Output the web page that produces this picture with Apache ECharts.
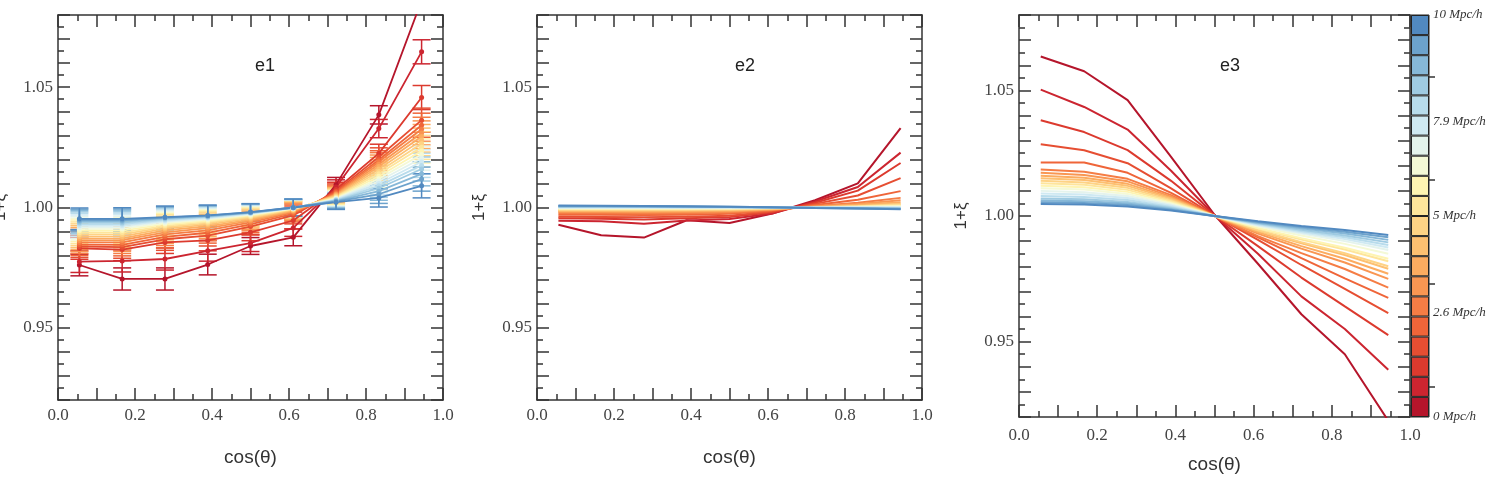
<!DOCTYPE html>
<html>
<head>
<meta charset="utf-8">
<script src="https://cdn.jsdelivr.net/npm/echarts@6/dist/echarts.min.js"></script>
<style>
    html, body { margin: 0; padding: 0; background: #fff; }
    #chart { width: 1496px; height: 477px; }
</style>
</head>
<body>
<div id="chart"></div>
<script>
    // cos(theta) bin centres
    var cosTheta = [0.0556, 0.1667, 0.2778, 0.3889, 0.5, 0.6111, 0.7222, 0.8333, 0.9444];

    // one colour per separation bin, 0 Mpc/h (red) -> 10 Mpc/h (blue)
    var sepColors = ['#b5152b', '#cc2530', '#dc3a2e', '#e64e32', '#ef6539', '#f57d45', '#f99652', '#fcac60', '#fdc071', '#fed385',
        '#fee59b', '#fef4b2', '#f4f9d6', '#e4f3ec', '#cfe9f2', '#b8dcec', '#9fcbe2', '#86b8d8', '#6ca2cc', '#5189c0'];

    // e1: 1+xi per separation bin
    var e1Lines = [
        [0.9761, 0.9703, 0.9703, 0.9763, 0.9840, 0.9876, 1.0095, 1.0385, 1.0860],
        [0.9775, 0.9778, 0.9786, 0.9820, 0.9852, 0.9915, 1.0085, 1.0328, 1.0647],
        [0.9830, 0.9825, 0.9855, 0.9863, 0.9897, 0.9946, 1.0075, 1.0225, 1.0457],
        [0.9838, 0.9835, 0.9868, 0.9883, 0.9921, 0.9967, 1.0068, 1.0210, 1.0363],
        [0.9846, 0.9845, 0.9878, 0.9895, 0.9930, 0.9975, 1.0063, 1.0198, 1.0342],
        [0.9855, 0.9855, 0.9888, 0.9905, 0.9938, 0.9980, 1.0058, 1.0190, 1.0325],
        [0.9863, 0.9864, 0.9897, 0.9914, 0.9944, 0.9984, 1.0055, 1.0180, 1.0310],
        [0.9871, 0.9872, 0.9905, 0.9922, 0.9950, 0.9987, 1.0052, 1.0170, 1.0295],
        [0.9879, 0.9880, 0.9912, 0.9929, 0.9955, 0.9990, 1.0049, 1.0160, 1.0280],
        [0.9887, 0.9888, 0.9918, 0.9935, 0.9959, 0.9992, 1.0046, 1.0150, 1.0265],
        [0.9895, 0.9896, 0.9924, 0.9940, 0.9963, 0.9994, 1.0043, 1.0140, 1.0250],
        [0.9903, 0.9904, 0.9930, 0.9945, 0.9967, 0.9995, 1.0040, 1.0130, 1.0235],
        [0.9910, 0.9911, 0.9935, 0.9950, 0.9970, 0.9996, 1.0037, 1.0120, 1.0220],
        [0.9917, 0.9918, 0.9940, 0.9954, 0.9973, 0.9997, 1.0035, 1.0110, 1.0205],
        [0.9924, 0.9925, 0.9945, 0.9957, 0.9975, 0.9998, 1.0033, 1.0100, 1.0190],
        [0.9931, 0.9931, 0.9949, 0.9960, 0.9977, 0.9998, 1.0031, 1.0090, 1.0175],
        [0.9937, 0.9937, 0.9953, 0.9962, 0.9978, 0.9999, 1.0029, 1.0080, 1.0160],
        [0.9943, 0.9943, 0.9956, 0.9964, 0.9979, 0.9999, 1.0027, 1.0068, 1.0140],
        [0.9948, 0.9948, 0.9958, 0.9966, 0.9980, 1.0000, 1.0025, 1.0055, 1.0118],
        [0.9953, 0.9953, 0.9960, 0.9967, 0.9981, 1.0000, 1.0022, 1.0040, 1.0090]
    ];
    // e1 error bar half-heights per cos(theta) bin
    var e1Err = [0.0045, 0.0046, 0.0046, 0.0043, 0.0035, 0.0035, 0.0030, 0.0038, 0.0050];

    var e2Lines = [
        [0.9928, 0.9885, 0.9875, 0.9947, 0.9936, 0.9975, 1.0030, 1.0100, 1.0330],
        [0.9945, 0.9943, 0.9932, 0.9946, 0.9952, 0.9975, 1.0025, 1.0085, 1.0228],
        [0.9955, 0.9953, 0.9950, 0.9955, 0.9960, 0.9980, 1.0020, 1.0070, 1.0185],
        [0.9962, 0.9961, 0.9960, 0.9962, 0.9966, 0.9983, 1.0015, 1.0050, 1.0122],
        [0.9970, 0.9970, 0.9969, 0.9970, 0.9974, 0.9987, 1.0010, 1.0032, 1.0068],
        [0.9976, 0.9976, 0.9975, 0.9976, 0.9979, 0.9990, 1.0006, 1.0020, 1.0040],
        [0.9981, 0.9981, 0.9980, 0.9981, 0.9983, 0.9992, 1.0004, 1.0015, 1.0030],
        [0.9985, 0.9985, 0.9984, 0.9985, 0.9987, 0.9993, 1.0002, 1.0011, 1.0022],
        [0.9988, 0.9988, 0.9988, 0.9989, 0.9990, 0.9995, 1.0001, 1.0007, 1.0016],
        [0.9991, 0.9991, 0.9991, 0.9991, 0.9992, 0.9996, 1.0001, 1.0005, 1.0012],
        [0.9993, 0.9993, 0.9993, 0.9993, 0.9994, 0.9997, 1.0000, 1.0004, 1.0009],
        [0.9995, 0.9995, 0.9995, 0.9995, 0.9996, 0.9998, 1.0000, 1.0003, 1.0006],
        [0.9997, 0.9997, 0.9997, 0.9997, 0.9997, 0.9999, 1.0000, 1.0002, 1.0004],
        [0.9999, 0.9999, 0.9999, 0.9999, 0.9999, 0.9999, 1.0000, 1.0001, 1.0002],
        [1.0000, 1.0000, 1.0000, 1.0000, 1.0000, 1.0000, 1.0000, 1.0000, 1.0000],
        [1.0002, 1.0002, 1.0002, 1.0001, 1.0001, 1.0000, 0.9999, 0.9999, 0.9998],
        [1.0003, 1.0003, 1.0003, 1.0002, 1.0002, 1.0000, 0.9999, 0.9998, 0.9997],
        [1.0005, 1.0005, 1.0004, 1.0003, 1.0002, 1.0000, 0.9999, 0.9997, 0.9995],
        [1.0006, 1.0006, 1.0005, 1.0004, 1.0003, 1.0001, 0.9998, 0.9996, 0.9994],
        [1.0008, 1.0007, 1.0006, 1.0005, 1.0003, 1.0001, 0.9998, 0.9996, 0.9993]
    ];

    var e3Lines = [
        [1.0635, 1.0576, 1.0461, 1.0235, 1.0005, 0.9810, 0.9609, 0.9450, 0.9185],
        [1.0503, 1.0434, 1.0344, 1.0180, 1.0003, 0.9850, 0.9680, 0.9550, 0.9388],
        [1.0381, 1.0334, 1.0262, 1.0140, 1.0002, 0.9880, 0.9755, 0.9640, 0.9526],
        [1.0286, 1.0262, 1.0210, 1.0110, 1.0001, 0.9905, 0.9805, 0.9710, 0.9613],
        [1.0213, 1.0213, 1.0172, 1.0092, 1.0000, 0.9915, 0.9832, 0.9752, 0.9674],
        [1.0185, 1.0176, 1.0148, 1.0083, 1.0000, 0.9920, 0.9852, 0.9789, 0.9715],
        [1.0172, 1.0163, 1.0138, 1.0077, 1.0000, 0.9930, 0.9870, 0.9815, 0.9750],
        [1.0160, 1.0152, 1.0128, 1.0072, 1.0000, 0.9936, 0.9880, 0.9830, 0.9770],
        [1.0150, 1.0143, 1.0120, 1.0068, 1.0000, 0.9941, 0.9891, 0.9845, 0.9790],
        [1.0140, 1.0133, 1.0112, 1.0063, 1.0000, 0.9944, 0.9896, 0.9852, 0.9800],
        [1.0130, 1.0124, 1.0104, 1.0059, 1.0000, 0.9950, 0.9906, 0.9867, 0.9820],
        [1.0120, 1.0114, 1.0096, 1.0054, 1.0000, 0.9952, 0.9912, 0.9874, 0.9830],
        [1.0110, 1.0105, 1.0088, 1.0050, 1.0000, 0.9958, 0.9922, 0.9889, 0.9850],
        [1.0100, 1.0095, 1.0080, 1.0045, 1.0000, 0.9962, 0.9930, 0.9900, 0.9865],
        [1.0090, 1.0086, 1.0072, 1.0041, 1.0000, 0.9965, 0.9935, 0.9908, 0.9875],
        [1.0080, 1.0076, 1.0064, 1.0036, 1.0000, 0.9968, 0.9940, 0.9915, 0.9885],
        [1.0070, 1.0067, 1.0056, 1.0032, 1.0000, 0.9971, 0.9945, 0.9922, 0.9895],
        [1.0062, 1.0059, 1.0050, 1.0028, 1.0000, 0.9973, 0.9951, 0.9930, 0.9905],
        [1.0055, 1.0052, 1.0044, 1.0025, 1.0000, 0.9976, 0.9956, 0.9937, 0.9915],
        [1.0048, 1.0046, 1.0038, 1.0022, 1.0000, 0.9979, 0.9960, 0.9944, 0.9924]
    ];

    var panelNames = ['e1', 'e2', 'e3'];

    // colorbar: bin edges in Mpc/h, label positions / texts, tick positions
    var cbEdges = [0, 0.5, 1, 1.5, 2, 2.5, 3, 3.5, 4, 4.5, 5, 5.5, 6, 6.5, 7, 7.5, 8, 8.5, 9, 9.5, 10];
    var cbLabelPos = [0, 2.6, 5, 7.35, 10];
    var cbLabelText = ['0 Mpc/h', '2.6 Mpc/h', '5 Mpc/h', '7.9 Mpc/h', '10 Mpc/h'];
    var cbTickPos = [0.76, 3.32, 5.89, 8.46];

    var AXIS_COLOR = '#333';
    var SERIF = '"Liberation Serif", "DejaVu Serif", serif';
    var SANS = '"Liberation Sans", Arial, sans-serif';

    // outerBoundsMode none: keep grids exactly where placed, labels may run off the page
    var grids = [
        {left: 58, top: 15, width: 385, height: 385, outerBoundsMode: 'none', containLabel: false},
        {left: 537, top: 15, width: 385, height: 385, outerBoundsMode: 'none', containLabel: false},
        {left: 1019, top: 15, width: 391, height: 402, outerBoundsMode: 'none', containLabel: false},
        {left: 1411, top: 15, width: 18, height: 402, outerBoundsMode: 'none', containLabel: false,
            show: true, borderColor: '#222', borderWidth: 1}
    ];

    var lineSt = {color: AXIS_COLOR, width: 1.5};

    function makeX(g, pos, labelMargin, nameGap) {
        var main = pos === 'bottom';
        return {
            gridIndex: g, type: 'value', position: pos, min: 0, max: 1, interval: 0.1,
            axisLine: {show: true, onZero: false, lineStyle: lineSt},
            axisTick: {show: true, inside: true, length: 12, lineStyle: lineSt},
            minorTick: {show: true, splitNumber: 2, length: 6, lineStyle: lineSt},
            splitLine: {show: false},
            axisLabel: {
                show: main, margin: labelMargin, fontFamily: SERIF, fontSize: 17, color: '#444',
                showMinLabel: true, showMaxLabel: true,
                formatter: function (v) {
                    return Math.round(v * 10) % 2 === 0 ? v.toFixed(1) : '';
                }
            },
            name: main ? 'cos(θ)' : '',
            nameLocation: 'middle', nameGap: nameGap,
            nameTextStyle: {fontFamily: SANS, fontSize: 19, color: '#333'}
        };
    }

    function makeY(g, pos) {
        var main = pos === 'left';
        return {
            gridIndex: g, type: 'value', position: pos, min: 0.92, max: 1.08, interval: 0.01,
            axisLine: {show: true, onZero: false, lineStyle: lineSt},
            axisTick: {show: true, inside: true, length: 12, lineStyle: lineSt},
            minorTick: {show: true, splitNumber: 2, length: 6, lineStyle: lineSt},
            splitLine: {show: false},
            axisLabel: {
                show: main, margin: 5, fontFamily: SERIF, fontSize: 17, color: '#444',
                formatter: function (v) {
                    return Math.round(v * 1000) % 50 === 0 ? v.toFixed(2) : '';
                }
            },
            name: main ? '1+ξ' : '',
            nameLocation: 'middle', nameGap: 49,
            nameTextStyle: {fontFamily: SANS, fontSize: 17, color: '#333'}
        };
    }

    var xAxes = [], yAxes = [];
    var xLabelMargin = [7, 7, 10];
    var xNameGap = [48, 48, 38];
    for (var p = 0; p < 3; p++) {
        xAxes.push(makeX(p, 'bottom', xLabelMargin[p], xNameGap[p]));
        xAxes.push(makeX(p, 'top', 0, 0));
        yAxes.push(makeY(p, 'left'));
        yAxes.push(makeY(p, 'right'));
    }
    // colorbar axes
    xAxes.push({gridIndex: 3, type: 'category', data: ['cb'], show: false});
    yAxes.push({
        gridIndex: 3, type: 'value', position: 'right', min: 0, max: 10,
        axisLine: {show: false},
        splitLine: {show: false},
        axisTick: {show: true, inside: false, length: 6, customValues: cbTickPos, lineStyle: lineSt},
        axisLabel: {
            show: true, margin: 4, customValues: cbLabelPos, showMinLabel: true, showMaxLabel: true,
            fontFamily: SERIF, fontStyle: 'italic', fontSize: 13, color: '#333',
            formatter: function (v) {
                for (var k = 0; k < cbLabelPos.length; k++) {
                    if (Math.abs(cbLabelPos[k] - v) < 1e-6) return cbLabelText[k];
                }
                return '';
            }
        }
    });

    function errorSeries(i) {
        var data = cosTheta.map(function (x, k) {
            return [x, e1Lines[i][k] - e1Err[k], e1Lines[i][k] + e1Err[k]];
        });
        return {
            type: 'custom', xAxisIndex: 0, yAxisIndex: 0, clip: true, silent: true,
            encode: {x: 0, y: [1, 2]},
            data: data,
            renderItem: function (params, api) {
                var hi = api.coord([api.value(0), api.value(2)]);
                var lo = api.coord([api.value(0), api.value(1)]);
                var st = {stroke: sepColors[i], lineWidth: 1.5};
                return {
                    type: 'group', children: [
                        {type: 'line', shape: {x1: hi[0], y1: hi[1], x2: lo[0], y2: lo[1]}, style: st},
                        {type: 'line', shape: {x1: hi[0] - 9, y1: hi[1], x2: hi[0] + 9, y2: hi[1]}, style: st},
                        {type: 'line', shape: {x1: lo[0] - 9, y1: lo[1], x2: lo[0] + 9, y2: lo[1]}, style: st}
                    ]
                };
            }
        };
    }

    function pairs(vals) {
        return cosTheta.map(function (x, k) { return [x, vals[k]]; });
    }

    var series = [];
    // e1 with markers and error bars
    for (var i = 0; i < 20; i++) {
        series.push({
            type: 'line', xAxisIndex: 0, yAxisIndex: 0, data: pairs(e1Lines[i]),
            symbol: 'circle', symbolSize: 5, showSymbol: true, clip: true, silent: true,
            lineStyle: {color: sepColors[i], width: 1.8},
            itemStyle: {color: sepColors[i]}
        });
        series.push(errorSeries(i));
    }
    // e2 and e3 plain lines
    [e2Lines, e3Lines].forEach(function (lines, n) {
        var ax = (n + 1) * 2;
        for (var i = 0; i < 20; i++) {
            series.push({
                type: 'line', xAxisIndex: ax, yAxisIndex: ax, data: pairs(lines[i]),
                showSymbol: false, clip: true, silent: true,
                lineStyle: {color: sepColors[i], width: 2}
            });
        }
    });
    // colorbar pieces
    for (var b = 0; b < 20; b++) {
        series.push({
            type: 'bar', xAxisIndex: 6, yAxisIndex: 6, stack: 'cb', barWidth: '100%',
            data: [cbEdges[b + 1] - cbEdges[b]], silent: true,
            itemStyle: {color: sepColors[b], borderColor: '#222', borderWidth: 1}
        });
    }

    var titleLeft = [255, 735, 1220];
    var titles = panelNames.map(function (t, k) {
        return {
            text: t, left: titleLeft[k], top: 57, padding: 0,
            textStyle: {fontFamily: SANS, fontSize: 18, fontWeight: 'normal', color: '#222'}
        };
    });

    var chart = echarts.init(document.getElementById('chart'));
    chart.setOption({
        animation: false,
        backgroundColor: '#fff',
        title: titles,
        grid: grids,
        xAxis: xAxes,
        yAxis: yAxes,
        series: series
    });
</script>
</body>
</html>
